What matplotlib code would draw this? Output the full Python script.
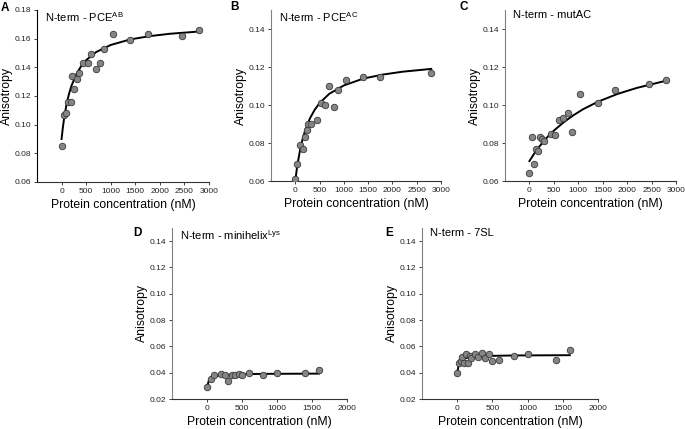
import matplotlib
matplotlib.use('Agg')
import matplotlib.pyplot as plt

plt.rcParams['font.family'] = ['Liberation Sans', 'DejaVu Sans']

# --- data ---
# A: N-term - PCE^AB
a_x = [0, 40, 95, 135, 190, 210, 260, 305, 350, 440, 530, 605, 700, 790, 865, 1050, 1400, 1750, 2450, 2800]
a_y = [0.085, 0.107, 0.108, 0.116, 0.116, 0.134, 0.125, 0.132, 0.136, 0.143, 0.143, 0.149,
       0.139, 0.143, 0.153, 0.163, 0.159, 0.163, 0.162, 0.166]
a_fit_x = [0, 25, 50, 100, 150, 200, 300, 400, 500, 700, 1000, 1400, 1800, 2200, 2800]
a_fit_y = [0.090, 0.0977, 0.104, 0.114, 0.1213, 0.127, 0.1352, 0.1409, 0.145, 0.1506,
           0.1556, 0.1595, 0.1618, 0.1634, 0.165]

# B: N-term - PCE^AC
b_x = [0, 40, 100, 150, 190, 235, 270, 325, 440, 530, 620, 700, 800, 880, 1050, 1400, 1750, 2800]
b_y = [0.061, 0.069, 0.079, 0.077, 0.083, 0.087, 0.090, 0.090, 0.092, 0.101, 0.100, 0.110,
       0.099, 0.108, 0.113, 0.115, 0.115, 0.117]
b_fit_x = [0, 25, 50, 100, 150, 200, 300, 400, 500, 700, 1000, 1400, 1800, 2200, 2800]
b_fit_y = [0.060, 0.0651, 0.0694, 0.0765, 0.0820, 0.0863, 0.0929, 0.0975, 0.101, 0.1059,
           0.1103, 0.1139, 0.1160, 0.1175, 0.119]

# C: N-term - mutAC
c_x = [0, 45, 90, 135, 175, 215, 260, 305, 435, 525, 610, 690, 790, 870, 1045, 1400, 1745, 2440, 2790]
c_y = [0.064, 0.083, 0.069, 0.077, 0.076, 0.083, 0.082, 0.081, 0.085, 0.084, 0.092, 0.093,
       0.096, 0.086, 0.106, 0.101, 0.108, 0.111, 0.113]
c_fit_x = [0, 100, 200, 300, 400, 500, 700, 900, 1100, 1400, 1800, 2200, 2800]
c_fit_y = [0.0705, 0.0745, 0.0780, 0.0812, 0.0840, 0.0865, 0.0909, 0.0946, 0.0978, 0.1017,
           0.1058, 0.1090, 0.1128]

# D: N-term - minihelix^Lys
d_x = [0, 50, 100, 200, 250, 300, 350, 400, 450, 500, 600, 800, 1000, 1400, 1600]
d_y = [0.029, 0.035, 0.038, 0.039, 0.038, 0.034, 0.038, 0.038, 0.039, 0.038, 0.040, 0.038,
       0.040, 0.040, 0.042]
d_fit_x = [0, 25, 50, 100, 200, 400, 800, 1600]
d_fit_y = [0.029, 0.0338, 0.0356, 0.0371, 0.0381, 0.0388, 0.0391, 0.0393]

# E: N-term - 7SL
e_x = [0, 25, 50, 75, 100, 125, 150, 175, 200, 250, 300, 350, 400, 450, 500, 600, 800, 1000, 1400, 1600]
e_y = [0.040, 0.047, 0.049, 0.052, 0.047, 0.054, 0.047, 0.053, 0.051, 0.054, 0.052, 0.055,
       0.051, 0.054, 0.049, 0.050, 0.053, 0.054, 0.050, 0.057]
e_fit_x = [0, 25, 50, 100, 200, 400, 800, 1600]
e_fit_y = [0.040, 0.0468, 0.049, 0.0508, 0.052, 0.0527, 0.0531, 0.0533]

panels = [
    # letter, letter pos (px), title, x, y, fit x, fit y, rect(px: left, right, top, bottom),
    # xlim, ylim, xticks, yticks, spine colour
    ('A', (1, 2), 'N-term - PCE$^{\\mathregular{AB}}$', a_x, a_y, a_fit_x, a_fit_y, (37, 209, 10, 182),
     (-500, 3000), (0.06, 0.18), range(0, 3001, 500), [0.06, 0.08, 0.10, 0.12, 0.14, 0.16, 0.18], 'black'),
    ('B', (230, 1), 'N-term - PCE$^{\\mathregular{AC}}$', b_x, b_y, b_fit_x, b_fit_y, (271, 441, 10, 181),
     (-500, 3000), (0.06, 0.15), range(0, 3001, 500), [0.06, 0.08, 0.10, 0.12, 0.14], '#808080'),
    ('C', (459, 1), 'N-term - mutAC', c_x, c_y, c_fit_x, c_fit_y, (505, 676, 10, 181),
     (-500, 3000), (0.06, 0.15), range(0, 3001, 500), [0.06, 0.08, 0.10, 0.12, 0.14], '#808080'),
    ('D', (133, 227), 'N-term - minihelix$^{\\mathregular{Lys}}$', d_x, d_y, d_fit_x, d_fit_y, (172, 347, 228, 399),
     (-500, 2000), (0.02, 0.15), range(0, 2001, 500), [0.02, 0.04, 0.06, 0.08, 0.10, 0.12, 0.14], '#808080'),
    ('E', (385, 227), 'N-term - 7SL', e_x, e_y, e_fit_x, e_fit_y, (422, 598, 228, 399),
     (-500, 2000), (0.02, 0.15), range(0, 2001, 500), [0.02, 0.04, 0.06, 0.08, 0.10, 0.12, 0.14], '#808080'),
]

W, H = 685, 429
fig = plt.figure(figsize=(W / 100, H / 100), dpi=100)

for letter, lpos, title, x, y, fx, fy, rect, xlim, ylim, xt, yt, sc in panels:
    l, r, t, b = rect
    ax = fig.add_axes([l / W, 1 - b / H, (r - l) / W, (b - t) / H])
    ax.plot(fx, fy, color='black', lw=1.4, zorder=2)
    ax.scatter(x, y, s=22, color='#858585', edgecolors='#3a3a3a', linewidths=0.6, zorder=3)
    ax.set_xlim(*xlim)
    ax.set_ylim(*ylim)
    ax.set_xticks(list(xt))
    ax.set_yticks(yt)
    ax.set_yticklabels(['%.2f' % v for v in yt])
    for s in ('top', 'right'):
        ax.spines[s].set_visible(False)
    ax.spines['left'].set_color(sc)
    ax.spines['bottom'].set_color('#333333')
    ax.spines['left'].set_linewidth(0.8)
    ax.spines['bottom'].set_linewidth(0.8)
    ax.tick_params(labelsize=6.0, length=2.5, width=0.6, pad=1.5, colors='#222222')
    ax.set_xlabel('Protein concentration (nM)', fontsize=8.8, labelpad=3)
    ax.set_ylabel('Anisotropy', fontsize=8.8, labelpad=1)
    ax.text(0.045, 1.0, title, transform=ax.transAxes, fontsize=8, va='top', ha='left')
    fig.text(lpos[0] / W, 1 - lpos[1] / H, letter, fontsize=8.5, fontweight='bold', va='top', ha='left')

fig.savefig('out.png', dpi=100)
